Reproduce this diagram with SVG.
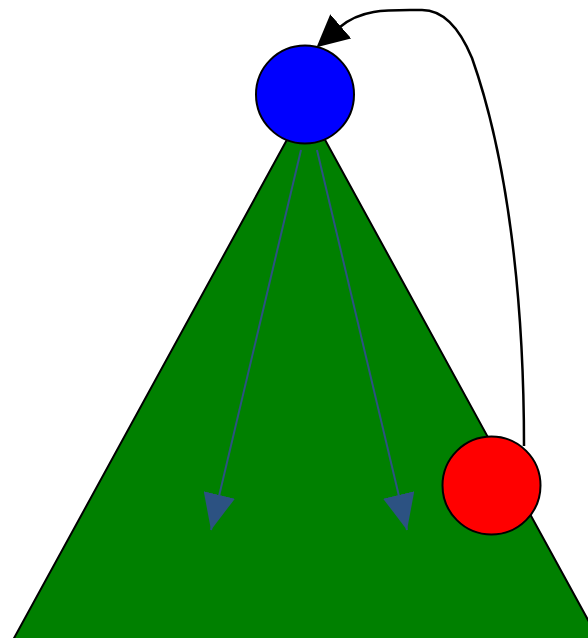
<svg xmlns="http://www.w3.org/2000/svg" width="588" height="638" viewBox="0 0 588 638">
<style>
.node{stroke:#000;stroke-width:2}
.blueedge{stroke:#2c5282;stroke-width:2;fill:none}
.blackedge{stroke:#000;stroke-width:2.5;fill:none}
</style>
<defs>
<marker id="bluehead" markerUnits="userSpaceOnUse" viewBox="0 0 36 32" markerWidth="36" markerHeight="32" refX="36" refY="16" orient="auto">
<path d="M0,0 L36,16 L0,32 Z" fill="#2c5282"/>
</marker>
<marker id="blackhead" markerUnits="userSpaceOnUse" viewBox="0 0 32 32" markerWidth="32" markerHeight="32" refX="1" refY="16" orient="auto">
<path d="M0,0 L32,16 L0,32 Z" fill="#000"/>
</marker>
</defs>
<g id="triangle">
<polygon points="306,105 13,640 599,640" fill="#008000" stroke="#000" stroke-width="2"/>
</g>
<g id="connectors">
<line class="blueedge" x1="301" y1="150" x2="211" y2="530" marker-end="url(#bluehead)"/>
<line class="blueedge" x1="317" y1="150" x2="407" y2="530" marker-end="url(#bluehead)"/>
<path class="blackedge" d="M524,446 C524,300 508,160 472,58 Q452,10 422,10 C390,10 362,8 340,27" marker-end="url(#blackhead)"/>
</g>
<g id="blue-node">
<circle class="node" cx="305" cy="94.5" r="49" fill="#0000ff"/>
</g>
<g id="red-node">
<circle class="node" cx="491.5" cy="485.5" r="49" fill="#ff0000"/>
</g>
</svg>
